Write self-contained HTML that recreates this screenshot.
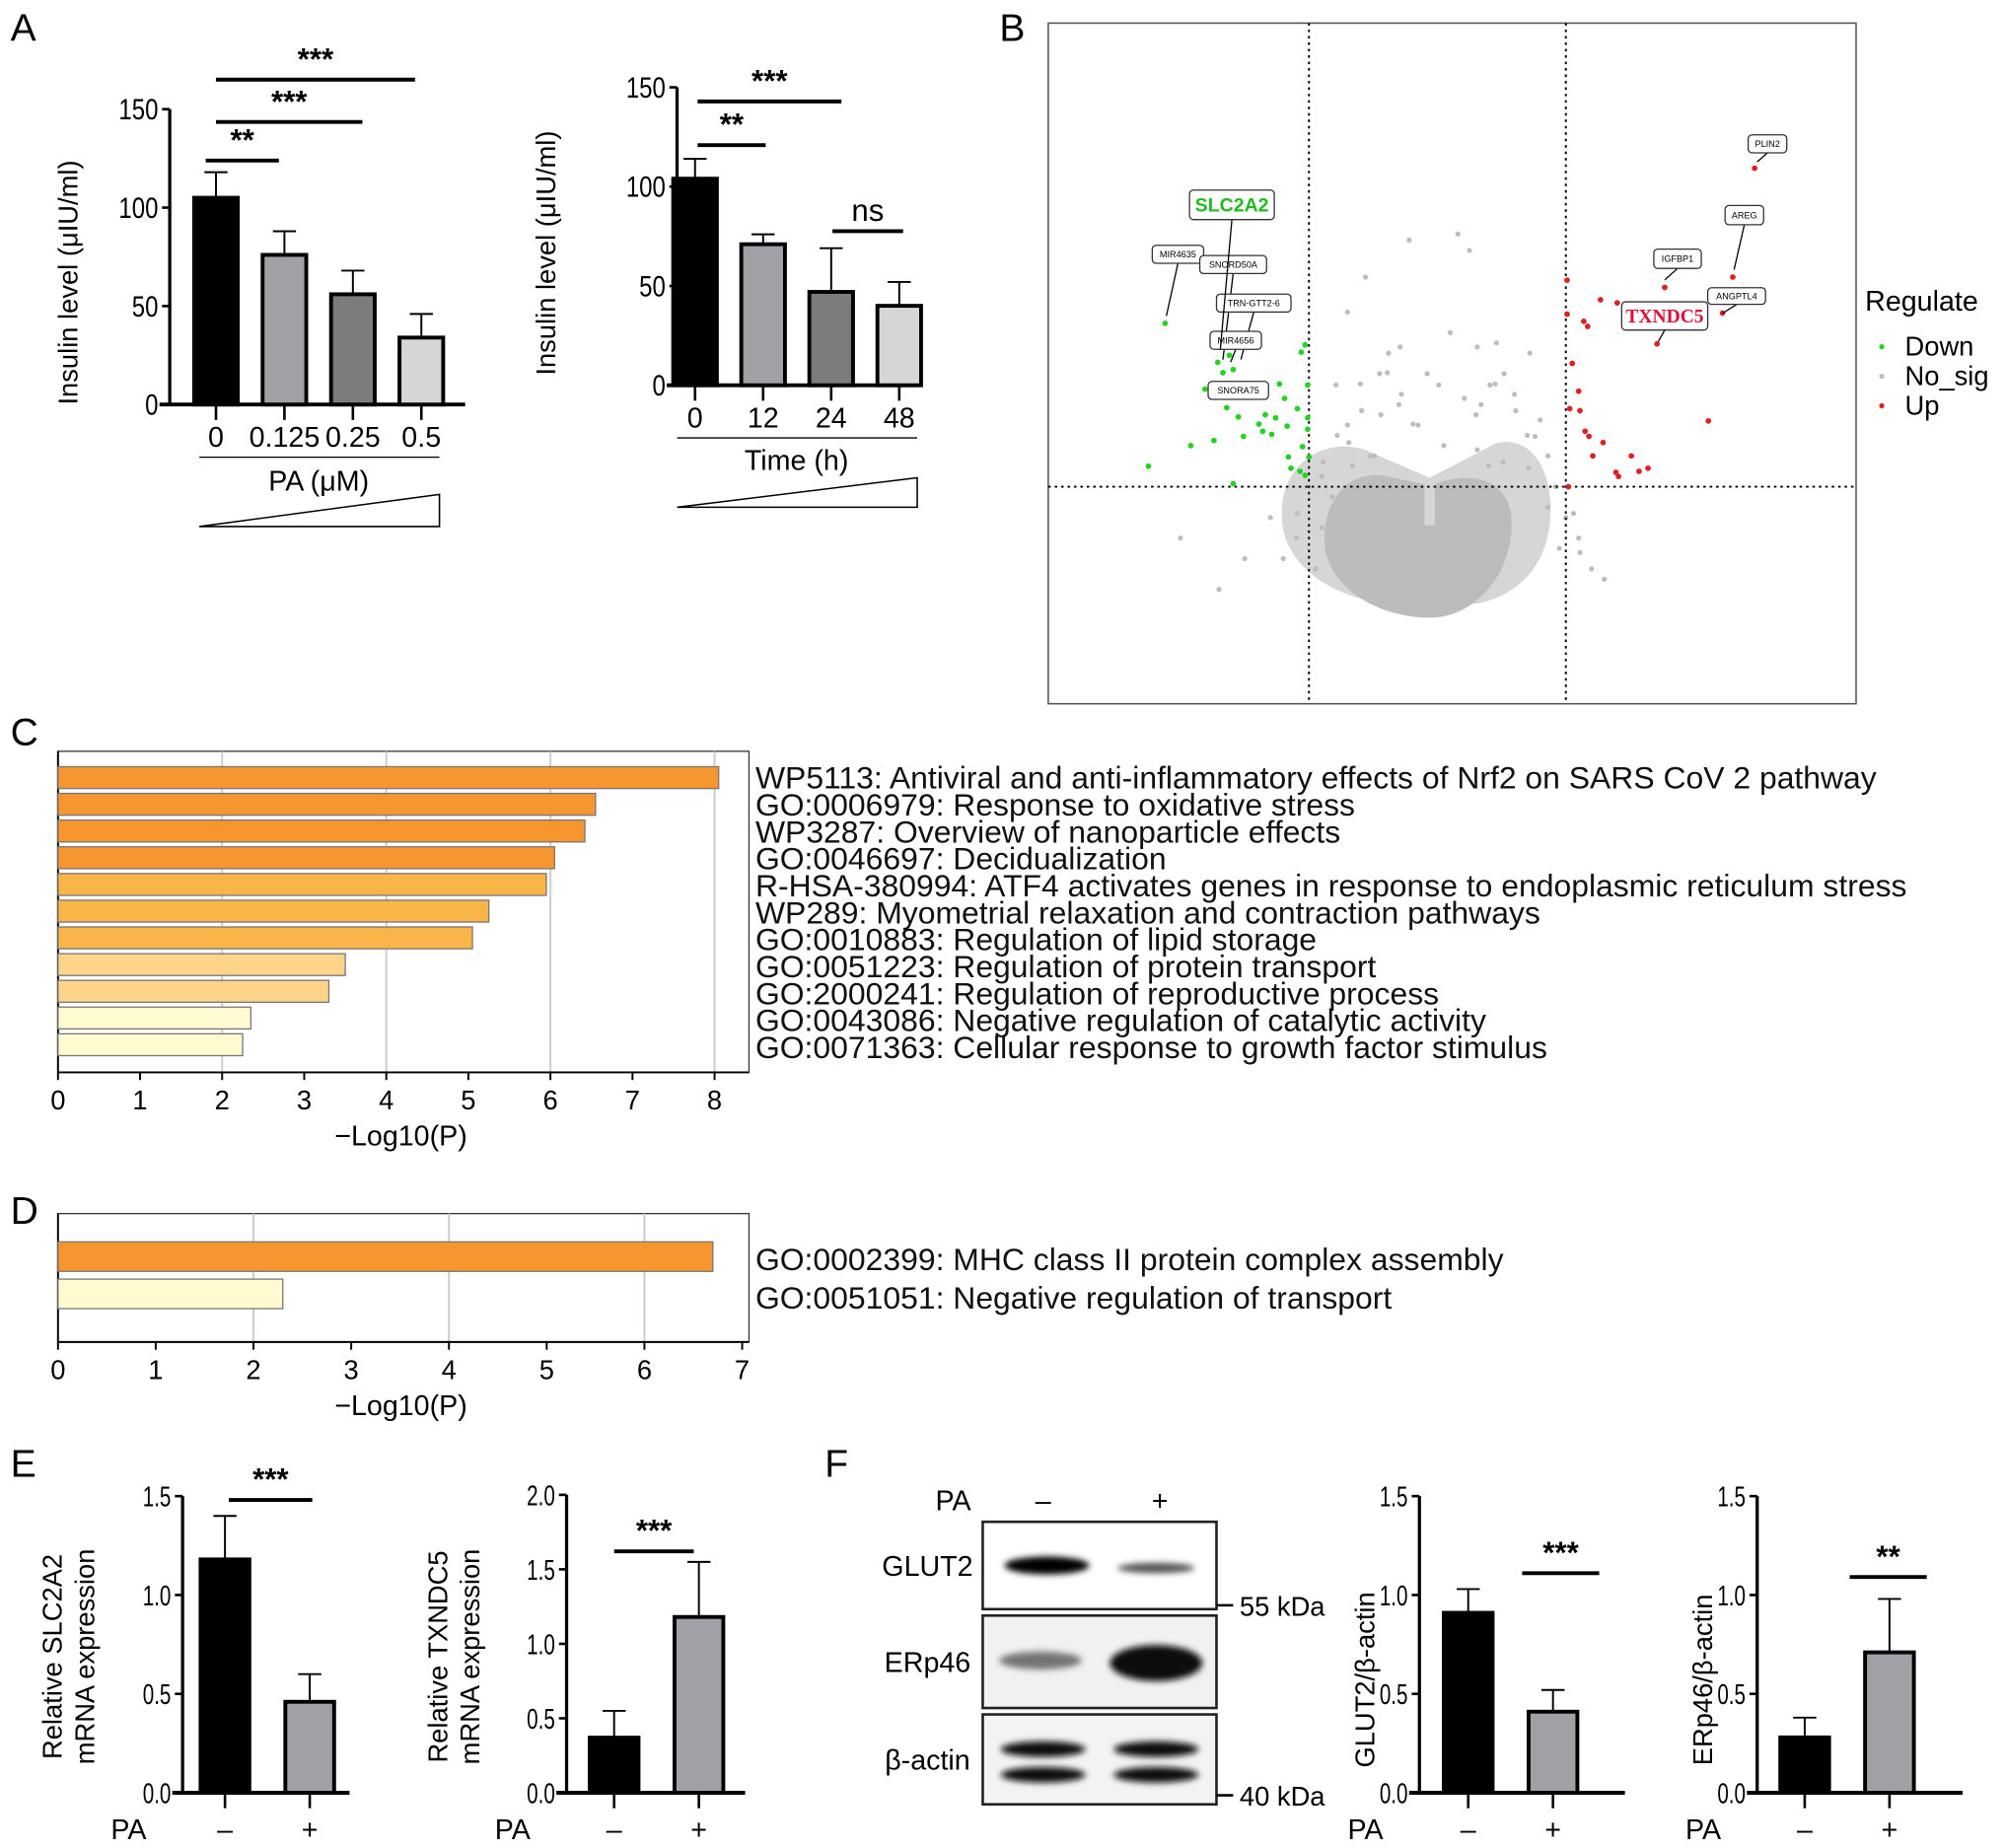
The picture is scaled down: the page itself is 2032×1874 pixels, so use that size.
<!DOCTYPE html>
<html><head><meta charset="utf-8">
<style>
html,body{margin:0;padding:0;background:#fff;}
svg{display:block;font-family:"Liberation Sans",Arial,sans-serif;}
</style></head>
<body>
<svg id="fig" width="2032" height="1874" viewBox="0 0 1560 1439" xmlns="http://www.w3.org/2000/svg">
<defs><filter id="blur" x="-30%" y="-60%" width="160%" height="220%"><feGaussianBlur stdDeviation="2.5"/></filter></defs>
<rect x="0" y="0" width="1560" height="1439" fill="#fff"/>
<g id="root"></g>
</svg>
<script>
// ===== Panel A data =====
const aPaCats = ["0", "0.125", "0.25", "0.5"];
const aPaVals = [105, 76, 56, 34];
const aPaErr = [13, 12, 12, 12];
const aTimeCats = ["0", "12", "24", "48"];
const aTimeVals = [104, 71, 47, 40];
const aTimeErr = [10, 5, 22, 12];
const aTicks = [0, 50, 100, 150];
// ===== Panel B data (logFC, -log10 p) =====
const bDownFC = [-2.12,-1.71,-1.67,-1.59,-1.62,-1.03,-1.06,-1.01,-1.19,-1.09,-1.34,-1.26,-1.01,-1.29,-1.36,-1.51,-1.74,-1.92,-1.17,-1.01,-1.16,-1.14,-1.07,-1.03,-1.59,-2.25,-1.05,-1.00,-1.76,-1.39,-1.64,-1.55,-1.81,-1.23];
const bDownP = [2.89,2.51,2.41,2.44,2.58,2.68,2.61,2.29,2.16,2.06,2.00,1.97,1.97,1.81,1.84,1.79,1.75,1.70,1.89,1.86,1.59,1.48,1.45,1.41,1.33,1.50,1.69,1.59,2.19,1.91,2.07,1.98,2.25,2.30];
const bUpFC = [2.47,2.30,2.22,1.77,1.71,1.01,1.27,1.40,1.14,1.17,1.01,1.10,1.03,1.11,1.15,1.18,1.29,1.51,1.39,1.41,1.57,2.11,1.64,1.21,1.05,1.02];
const bUpP = [4.40,3.34,2.99,3.24,2.69,3.31,3.12,3.09,2.91,2.86,2.98,2.23,2.06,2.04,1.84,1.79,1.73,1.60,1.44,1.40,1.45,1.94,1.48,1.60,2.50,1.30];
const bGrayFC = [0.16,-0.22,-0.56,-0.70,0.25,0.46,-0.08,-0.38,0.60,0.72,-0.44,0.10,-0.60,0.34,-0.15,0.80,-0.78,0.52,-0.28,0.05,-1.30,-1.50,-1.70,-2.00,1.10,1.30,-0.90,0.92,0.40,-0.52,-0.82,-0.66,-0.9,0.86,0.95,1.0,-0.95,-1.1,-1.2,1.2,-0.45,0.45,-0.3,0.3,-0.7,0.7,
  -0.79,-0.59,-0.39,-0.19,0.21,0.41,0.61,0.76,-0.69,-0.49,0.31,0.51,0.71,-0.89,0.86,0.01,-0.29,0.31,-1.09,1.06,1.11];
const bGrayP = [3.76,3.70,3.34,3.00,3.60,2.70,2.40,2.60,2.20,2.60,2.00,2.80,2.30,2.10,1.90,1.95,1.80,2.40,2.20,1.70,1.00,0.60,0.30,0.80,0.80,0.40,1.40,1.30,1.50,1.60,1.2,1.5,0.9,1.1,0.7,1.0,0.5,0.8,0.6,0.5,2.4,2.3,2.1,2.0,1.9,1.8,
  2.29,2.04,2.41,1.91,2.16,2.29,2.04,1.79,1.73,1.60,1.66,1.54,1.48,1.54,1.60,2.29,2.66,2.66,1.04,1.04,0.66];
const bLabelsDown = ["MIR4635","SNORD50A","TRN-GTT2-6","MIR4656","SNORA75"];
const bLabelsUp = ["PLIN2","AREG","IGFBP1","ANGPTL4"];
// ===== Panel C / D data =====
const cTerms = ["WP5113: Antiviral and anti-inflammatory effects of Nrf2 on SARS CoV 2 pathway","GO:0006979: Response to oxidative stress","WP3287: Overview of nanoparticle effects","GO:0046697: Decidualization","R-HSA-380994: ATF4 activates genes in response to endoplasmic reticulum stress","WP289: Myometrial relaxation and contraction pathways","GO:0010883: Regulation of lipid storage","GO:0051223: Regulation of protein transport","GO:2000241: Regulation of reproductive process","GO:0043086: Negative regulation of catalytic activity","GO:0071363: Cellular response to growth factor stimulus"];
const cVals = [8.05, 6.55, 6.42, 6.05, 5.95, 5.25, 5.05, 3.5, 3.3, 2.35, 2.25];
const cTicks = [0,1,2,3,4,5,6,7,8];
const dTerms = ["GO:0002399: MHC class II protein complex assembly","GO:0051051: Negative regulation of transport"];
const dVals = [6.7, 2.3];
const dTicks = [0,1,2,3,4,5,6,7];
// ===== Panel E / F data =====
const eCats = ["–", "+"];
const eSlcVals = [1.18, 0.46];
const eSlcErr = [0.22, 0.14];
const eTxnVals = [0.37, 1.18];
const eTxnErr = [0.18, 0.37];
const fGlutVals = [0.91, 0.41];
const fGlutErr = [0.12, 0.11];
const fErpVals = [0.28, 0.71];
const fErpErr = [0.10, 0.27];
const ticks15 = [0.0, 0.5, 1.0, 1.5];
const ticks20 = [0.0, 0.5, 1.0, 1.5, 2.0];

const NS = "http://www.w3.org/2000/svg";
const root = document.getElementById("root");
function el(tag, attrs, name, inter, parent) {
  const e = document.createElementNS(NS, tag);
  for (const k in attrs) e.setAttribute(k, attrs[k]);
  
  
  (parent || root).appendChild(e);
  return e;
}
function txt(x, y, s, size, name, extra) {
  const a = Object.assign({x: x, y: y, "font-size": size, fill: "#000"}, extra || {});
  const t = el("text", a, name, false);
  t.textContent = s;
  return t;
}
function line(x1, y1, x2, y2, w, name, extra) {
  return el("line", Object.assign({x1: x1, y1: y1, x2: x2, y2: y2, stroke: "#000", "stroke-width": w}, extra || {}), name, false);
}

// panel letters
[["A",8,32],["B",778,32],["C",8,580],["D",8,953],["E",8,1150],["F",642,1150]].forEach(p => {
  txt(p[1], p[2], p[0], 30, "panel-label-" + p[0].toLowerCase());
});

// ===== generic bar chart =====
function barChart(o) {
  const y = v => o.y0 - (v - o.ymin) / (o.ymax - o.ymin) * (o.y0 - o.y1);
  line(o.ax, o.y0 + 1, o.ax, y(o.ymax), 2.5, o.name + "-y-axis");
  line(o.ax - 8, o.y0, o.xEnd, o.y0, 3, o.name + "-x-axis");
  const sx = o.tickScale || 0.85;
  o.ticks.forEach(t => {
    line(o.ax - 6, y(t), o.ax, y(t), 2, o.name + "-y-tick");
    const tx = o.ax - 9, ty = y(t) + 8;
    txt(tx, ty, o.tickFmt ? t.toFixed(1) : String(t), o.tickSize, o.name + "-y-tick-label", {"text-anchor": "end", transform: `translate(${tx},${ty}) scale(${sx},1) translate(${-tx},${-ty})`});
  });
  o.vals.forEach((v, i) => {
    const cx = o.cx0 + i * o.dx;
    line(cx, y(v), cx, y(v + o.err[i]), 1.5, o.name + "-error-bar");
    line(cx - 9, y(v + o.err[i]), cx + 9, y(v + o.err[i]), 1.5, o.name + "-error-cap");
    el("rect", {x: cx - o.bw / 2, y: y(v), width: o.bw, height: o.y0 - y(v), fill: o.colors[i], stroke: "#000", "stroke-width": 3}, o.name + "-bar-" + i, false);
    line(cx, o.y0, cx, o.y0 + 12, 2, o.name + "-x-tick");
    if (o.cats) txt(cx, o.catY, o.cats[i], o.catSize, o.name + "-x-label", {"text-anchor": "middle"});
  });
  (o.sig || []).forEach(s => {
    line(s[0], s[2], s[1], s[2], 3, o.name + "-sig-bracket");
    txt((s[0] + s[1]) / 2, s[2] - 8, s[3], 24, o.name + "-sig-label", {"text-anchor": "middle", "font-weight": s[3] === "ns" ? "normal" : "bold"});
  });
  return y;
}
const greys = ["#000", "#a0a0a6", "#7c7c7c", "#d6d6d6"];

// Panel A left
barChart({name: "a-pa-chart", ax: 132, y0: 315, y1: 85, ymin: 0, ymax: 150, xEnd: 362, ticks: aTicks, tickSize: 23, tickScale: 0.8,
  vals: aPaVals, err: aPaErr, cx0: 168, dx: 53.3, bw: 34, colors: greys, cats: aPaCats, catY: 348, catSize: 22,
  sig: [[160, 217, 125, "**"], [168, 282, 95, "***"], [168, 323, 62, "***"]]});
txt(52, 212, "Insulin level (μIU/ml)", 21, "a-pa-y-title", {"text-anchor": "middle", transform: "rotate(-90 60 212)"});
line(155, 356, 342, 356, 1, "a-pa-group-line");
txt(248, 382, "PA (μM)", 22, "a-pa-x-title", {"text-anchor": "middle"});
el("polygon", {points: "155,410 342,385 342,410", fill: "#fff", stroke: "#000", "stroke-width": 1.2}, "a-pa-dose-triangle", false);

// Panel A right
barChart({name: "a-time-chart", ax: 527, y0: 300, y1: 68, ymin: 0, ymax: 150, xEnd: 714, ticks: aTicks, tickSize: 23, tickScale: 0.8,
  vals: aTimeVals, err: aTimeErr, cx0: 541, dx: 53, bw: 34, colors: greys, cats: aTimeCats, catY: 333, catSize: 22,
  sig: [[543, 596, 113, "**"], [543, 655, 79, "***"], [648, 703, 180, "ns"]]});
txt(425, 190, "Insulin level (μIU/ml)", 21, "a-time-y-title", {"text-anchor": "middle", transform: "rotate(-90 432 190)"});
line(527, 341, 714, 341, 1, "a-time-group-line");
txt(620, 366, "Time (h)", 22, "a-time-x-title", {"text-anchor": "middle"});
el("polygon", {points: "527,395 714,372 714,395", fill: "#fff", stroke: "#000", "stroke-width": 1.2}, "a-time-triangle", false);

// ===== Panel B volcano =====
const bx = v => 1119 + v * 100;
const by = v => 483 - v * 80;
el("rect", {x: 816, y: 18, width: 629, height: 530, fill: "#fff", stroke: "#555", "stroke-width": 1.2}, "b-plot-frame", false);
el("path", {d: "M998,405 C995,362 1030,340 1062,350 L1113,372 L1165,345 C1195,338 1212,372 1206,412 C1200,450 1172,466 1150,470 L1080,470 C1040,466 1000,442 998,405 Z", fill: "#d6d6d6"}, "b-nosig-spread", false);
el("path", {d: "M1031,420 C1031,390 1048,368 1075,370 L1109,377 L1109,409 L1117,409 L1117,377 C1140,368 1170,370 1176,398 C1182,440 1152,481 1113,481 C1072,481 1031,456 1031,420 Z", fill: "#bcbcbc"}, "b-nosig-cloud", false);
bGrayFC.forEach((v, i) => el("circle", {cx: bx(v), cy: by(bGrayP[i]), r: 2, fill: "#bdbdbd"}, "b-nosig-point", false));
line(1019, 18, 1019, 548, 1.5, "b-fc-cutoff-left", {"stroke-dasharray": "2,3"});
line(1219, 18, 1219, 548, 1.5, "b-fc-cutoff-right", {"stroke-dasharray": "2,3"});
line(816, 379, 1445, 379, 1.5, "b-p-cutoff", {"stroke-dasharray": "2,3"});
bDownFC.forEach((v, i) => el("circle", {cx: bx(v), cy: by(bDownP[i]), r: 2.2, fill: "#22d322"}, "b-down-point", false));
bUpFC.forEach((v, i) => el("circle", {cx: bx(v), cy: by(bUpP[i]), r: 2.2, fill: "#e02020"}, "b-up-point", false));
function gLabel(x, y, w, h, s, size, color, font, name, ax, ay) {
  line(x, y + h, ax, ay, 1, name + "-arrow");
  el("rect", {x: x - w / 2, y: y, width: w, height: h, rx: 3, fill: "#fff", stroke: "#333", "stroke-width": 1}, name + "-box", false);
  txt(x, y + h / 2 + size * 0.35, s, size, name, {"text-anchor": "middle", fill: color, "font-family": font, "font-weight": color === "#000" ? "normal" : "bold"});
}
const lbl = [[917,191,40,14,bLabelsDown[0],908,246],[960,199,52,14,bLabelsDown[1],952,280],[976,229,58,14,bLabelsDown[2],966,280],[962,258,40,14,bLabelsDown[3],958,282],[964,297,47,14,bLabelsDown[4],960,300],
  [1376,105,30,14,bLabelsUp[0],1368,126],[1358,160,30,15,bLabelsUp[1],1350,210],[1306,194,37,15,bLabelsUp[2],1296,218],[1352,224,45,13,bLabelsUp[3],1341,244]];
lbl.forEach(l => gLabel(l[0], l[1], l[2], l[3], l[4], 7, "#000", "Liberation Sans", "b-gene-label-" + l[4].toLowerCase(), l[5], l[6]));
gLabel(959, 148, 66, 23, "SLC2A2", 15, "#22bb22", "Liberation Sans", "b-gene-label-slc2a2", 950, 272);
gLabel(1296, 235, 67, 22, "TXNDC5", 15, "#dd1133", "Liberation Serif", "b-gene-label-txndc5", 1291, 266);
txt(1452, 242, "Regulate", 22, "b-legend-title");
[["Down","#22d322",277],["No_sig","#bdbdbd",300],["Up","#e02020",323]].forEach(l => {
  el("circle", {cx: 1465, cy: l[2] - 7, r: 2, fill: l[1]}, "b-legend-marker-" + l[0].toLowerCase(), false);
  txt(1483, l[2], l[0], 21, "b-legend-entry-" + l[0].toLowerCase());
});

// ===== Panel C / D enrichment =====
function colorFor(v) { return v >= 6 ? "#f7952f" : v >= 5 ? "#f9b548" : v >= 3 ? "#fdd58a" : "#fffad0"; }
function enrich(o) {
  const x = v => 45 + v * o.unit;
  el("rect", {x: 45, y: o.top, width: 538, height: o.bottom - o.top, fill: "#fff", stroke: "#333", "stroke-width": 1}, o.name + "-frame", false);
  o.ticks.forEach(t => {
    if (t > 0 && t % 2 === 0) line(x(t), o.top, x(t), o.bottom, 1.5, o.name + "-gridline", {stroke: "#ccc"});
    line(x(t), o.bottom, x(t), o.bottom + 6, 1.5, o.name + "-x-tick");
    txt(x(t), o.bottom + 29, String(t), 21, o.name + "-x-tick-label", {"text-anchor": "middle"});
  });
  line(45, o.top, 45, o.bottom, 1.5, o.name + "-y-axis");
  line(45, o.bottom, 583, o.bottom, 1.5, o.name + "-x-axis");
  o.vals.forEach((v, i) => {
    const yy = o.y0 + i * o.step;
    el("rect", {x: 45, y: yy, width: x(v) - 45, height: o.bh, fill: colorFor(v), stroke: "#777", "stroke-width": 1}, o.name + "-bar-" + i, false);
    txt(588, o.ty0 + i * o.tstep, o.terms[i], 24.5, o.name + "-term-label", {fill: "#111"});
  });
  txt(312, o.bottom + 57, "−Log10(P)", 22, o.name + "-x-title", {"text-anchor": "middle"});
}
enrich({name: "c-enrichment", top: 585, bottom: 835, unit: 63.9, ticks: cTicks, vals: cVals, terms: cTerms, y0: 597, step: 20.8, bh: 17, ty0: 614, tstep: 21});
enrich({name: "d-enrichment", top: 945, bottom: 1045, unit: 76.1, ticks: dTicks, vals: dVals, terms: dTerms, y0: 967, step: 29, bh: 23, ty0: 989, tstep: 30});

// ===== Panel E =====
const eCols = ["#000", "#a0a0a6"];
function ebar(o) {
  barChart(Object.assign({ymin: 0, y0: 1396, tickSize: 22, tickScale: 0.72, tickFmt: true, dx: 66, bw: 38, colors: eCols, cats: null}, o));
  txt(o.ax - 42, 1432, "PA", 22, o.name + "-pa-label", {"text-anchor": "middle"});
  txt(o.cx0, 1432, "–", 22, o.name + "-minus-label", {"text-anchor": "middle"});
  txt(o.cx0 + 66, 1432, "+", 22, o.name + "-plus-label", {"text-anchor": "middle"});
}
ebar({name: "e-slc2a2-chart", ax: 142, y1: 1165, ymax: 1.5, xEnd: 272, ticks: ticks15, vals: eSlcVals, err: eSlcErr, cx0: 175, sig: [[178, 243, 1168, "***"]]});
txt(40, 1282, "Relative SLC2A2", 21, "e-slc2a2-y-title-1", {"text-anchor": "middle", transform: "rotate(-90 48 1282)"});
txt(65, 1282, "mRNA expression", 21, "e-slc2a2-y-title-2", {"text-anchor": "middle", transform: "rotate(-90 73 1282)"});
ebar({name: "e-txndc5-chart", ax: 441, y1: 1164, ymax: 2.0, xEnd: 580, ticks: ticks20, vals: eTxnVals, err: eTxnErr, cx0: 478, sig: [[478, 540, 1208, "***"]]});
txt(340, 1282, "Relative TXNDC5", 21, "e-txndc5-y-title-1", {"text-anchor": "middle", transform: "rotate(-90 348 1282)"});
txt(365, 1282, "mRNA expression", 21, "e-txndc5-y-title-2", {"text-anchor": "middle", transform: "rotate(-90 373 1282)"});

// ===== Panel F blot =====
txt(742, 1176, "PA", 22, "f-blot-pa-label", {"text-anchor": "middle"});
txt(812, 1176, "–", 22, "f-blot-minus", {"text-anchor": "middle"});
txt(903, 1176, "+", 22, "f-blot-plus", {"text-anchor": "middle"});
const blots = [["glut2", 1185, 1253, "GLUT2", "#fff"], ["erp46", 1258, 1330, "ERp46", "#f1f1f1"], ["beta-actin", 1335, 1405, "β-actin", "#f3f3f3"]];
blots.forEach(b => {
  el("rect", {x: 765, y: b[1], width: 182, height: b[2] - b[1], fill: b[4], stroke: "#222", "stroke-width": 2}, "f-blot-" + b[0] + "-panel", false);
  txt(722, (b[1] + b[2]) / 2 + 8, b[3], 22, "f-blot-" + b[0] + "-label", {"text-anchor": "middle"});
});
el("ellipse", {cx: 815, cy: 1219, rx: 33, ry: 7, fill: "#000", filter: "url(#blur)"}, "f-band-glut2-minus", false);
el("ellipse", {cx: 900, cy: 1221, rx: 30, ry: 4, fill: "#333", opacity: 0.85, filter: "url(#blur)"}, "f-band-glut2-plus", false);
el("ellipse", {cx: 810, cy: 1293, rx: 32, ry: 7, fill: "#555", opacity: 0.8, filter: "url(#blur)"}, "f-band-erp46-minus", false);
el("ellipse", {cx: 900, cy: 1295, rx: 36, ry: 14, fill: "#111", filter: "url(#blur)"}, "f-band-erp46-plus", false);
[[812,1362],[812,1382],[900,1362],[900,1382]].forEach((p, i) => el("ellipse", {cx: p[0], cy: p[1], rx: 33, ry: 6, fill: "#111", filter: "url(#blur)"}, "f-band-actin-" + i, false));
line(947, 1250, 960, 1250, 2, "f-marker-55-tick");
txt(965, 1258, "55 kDa", 21, "f-marker-55-label");
line(947, 1398, 960, 1398, 2, "f-marker-40-tick");
txt(965, 1406, "40 kDa", 21, "f-marker-40-label");

ebar({name: "f-glut2-chart", ax: 1105, y1: 1165, ymax: 1.5, xEnd: 1265, ticks: ticks15, vals: fGlutVals, err: fGlutErr, cx0: 1143, sig: [[1185, 1245, 1225, "***"]]});
txt(1062, 1300, "GLUT2/β-actin", 21, "f-glut2-y-title", {"text-anchor": "middle", transform: "rotate(-90 1070 1300)"});
ebar({name: "f-erp46-chart", ax: 1368, y1: 1165, ymax: 1.5, xEnd: 1528, ticks: ticks15, vals: fErpVals, err: fErpErr, cx0: 1405, sig: [[1440, 1500, 1228, "**"]]});
txt(1325, 1300, "ERp46/β-actin", 21, "f-erp46-y-title", {"text-anchor": "middle", transform: "rotate(-90 1333 1300)"});
</script>
</body></html>
